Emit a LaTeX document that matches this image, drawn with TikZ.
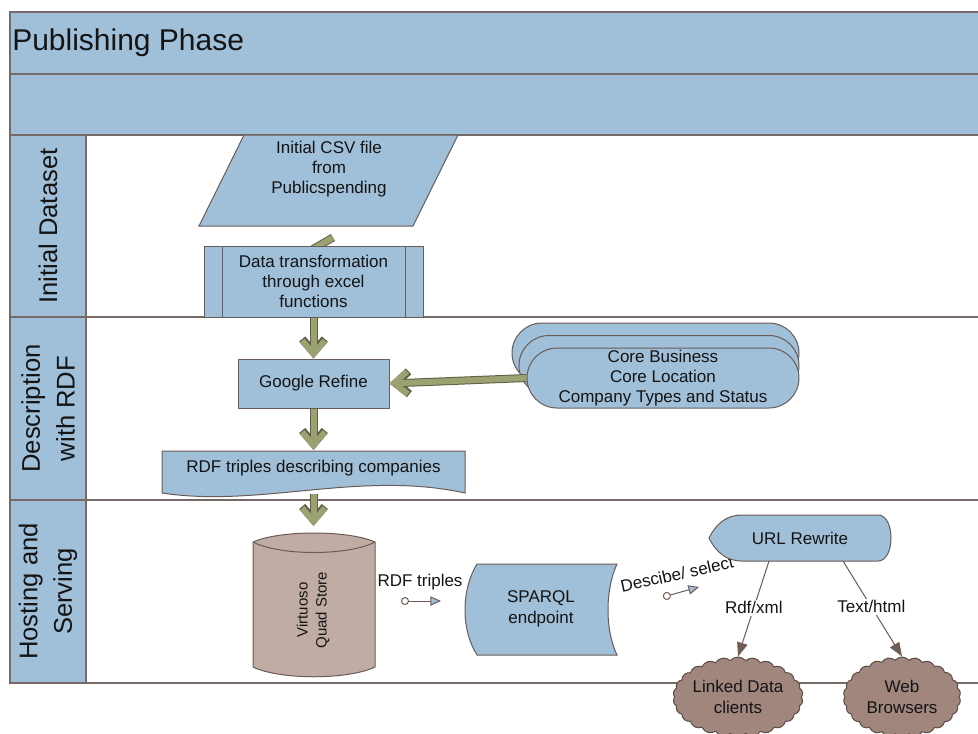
\documentclass[tikz,border=0pt]{standalone}
\usepackage{fontspec}
\setmainfont{Liberation Sans}
\usetikzlibrary{arrows.meta,shapes.symbols}

\definecolor{laneblue}{RGB}{160,191,216}
\definecolor{framegray}{RGB}{118,106,102}
\definecolor{edgegray}{RGB}{105,92,86}
\definecolor{flowolive}{RGB}{155,161,112}
\definecolor{oliveedge}{RGB}{95,95,70}
\definecolor{storefill}{RGB}{192,172,165}
\definecolor{cloudfill}{RGB}{160,134,124}
\definecolor{cloudedge}{RGB}{92,76,70}
\definecolor{linkbrown}{RGB}{110,92,85}
\definecolor{inktext}{RGB}{20,20,20}

\begin{document}
\begin{tikzpicture}[x=0.75pt,y=-0.75pt,
  body/.style={font=\fontsize{12.75}{15.3}\selectfont, text=inktext, align=center, inner sep=0pt},
  lanetitle/.style={font=\fontsize{19.2}{26}\selectfont, text=inktext, align=center, rotate=90, inner sep=0pt},
  shapeline/.style={draw=edgegray, line width=0.75pt, fill=laneblue},
  frameline/.style={draw=framegray, line width=1.1pt},
  flowtip/.style={-{Straight Barb[sharp,length=10pt,width=17pt]}},
  flow/.style={draw=flowolive, line width=4.5pt, flowtip,
    preaction={draw=oliveedge, line width=6pt, flowtip}},
  flowshaft/.style={draw=flowolive, line width=4.5pt, line cap=butt,
    preaction={draw=oliveedge, line width=6pt, line cap=butt}},
  msg/.style={draw=linkbrown, line width=0.75pt,
    {Circle[length=6pt,fill=white]}-{Triangle[length=8pt,width=7pt,fill=laneblue]}},
  link/.style={draw=linkbrown, line width=0.75pt, -{Triangle[length=10.5pt,width=8pt]}},
  cloudnode/.style={cloud, cloud puffs=26, cloud puff arc=100, cloud ignores aspect,
    draw=cloudedge, line width=0.75pt, fill=cloudfill, body,
    minimum width=88pt, minimum height=60pt}
]
\useasboundingbox (0,0) rectangle (978,733);

% ---- pool and lanes ----
\fill[laneblue] (10,12) rectangle (980,135);
\fill[laneblue] (10,135) rectangle (86,683);
\draw[frameline] (980,12) -- (10,12) -- (10,683) -- (980,683);
\draw[frameline] (10,74) -- (980,74);
\draw[frameline] (10,135) -- (980,135);
\draw[frameline] (10,317) -- (980,317);
\draw[frameline] (10,500) -- (980,500);
\draw[frameline] (86,135) -- (86,683);

\node[anchor=west, font=\fontsize{22.5}{27}\selectfont, text=inktext, inner sep=0pt] (title) at (12,43) {Publishing Phase};

\node[lanetitle] (lane1) at (48,226) {Initial Dataset};
\node[lanetitle] (lane2) at (48,408.5) {Description\\with RDF};
\node[lanetitle] (lane3) at (48,591.5) {Hosting and\\Serving};

% ---- initial dataset ----
\draw[shapeline] (244,135) -- (458,135) -- (413,226) -- (199,226) -- cycle;
\node[body] (csv) at (329,169) {Initial CSV file\\from\\Publicspending};

\coordinate (stubA) at (313,249);
\coordinate (stubB) at (333,237.5);
\draw[flowshaft] (stubA) -- (stubB);

\node[shapeline, body, minimum width=164.25pt, minimum height=53.25pt] (dt) at (313.5,281.5)
  {Data transformation\\through excel\\functions};
\draw[draw=edgegray, line width=0.75pt] (222,246) -- (222,317) (405,246) -- (405,317);

% ---- description with RDF ----
\node[shapeline, body, minimum width=113.25pt, minimum height=36.75pt] (gr) at (313.5,383.5) {Google Refine};

\draw[shapeline] (162,451) -- (465,451) -- (465,493)
  .. controls (360,470) and (260,508) .. (162,493) -- cycle;
\node[body] (rdf) at (313.5,468) {RDF triples describing companies};
\coordinate (rdfTop) at (313.5,450);
\coordinate (rdfBot) at (313.5,494);

\draw[shapeline, rounded corners=22.5pt] (512,323) rectangle (799,383);
\draw[shapeline, rounded corners=22.5pt] (519,335.5) rectangle (799,395.5);
\node[shapeline, body, rounded corners=22.5pt, minimum width=204pt, minimum height=45pt] (core) at (663,378)
  {Core Business\\Core Location\\Company Types and Status};

\draw[flow] (dt.south) -- (gr.north);
\draw[flow] (gr.south) -- (rdfTop);
\draw[flow] (core.west) -- (gr.east);

% ---- hosting and serving ----
\draw[draw=edgegray, line width=0.75pt, fill=storefill]
  (253,542) .. controls (280,530) and (348,530) .. (375,542) -- (375,667)
  .. controls (348,680) and (280,680) .. (253,667) -- cycle;
\draw[draw=edgegray, line width=0.75pt] (253,542) .. controls (280,556) and (348,556) .. (375,542);
\node[body, font=\fontsize{11.25}{14.25}\selectfont, rotate=90] (vqs) at (313,610) {Virtuoso\\Quad Store};
\coordinate (vqsTop) at (313.5,526);
\draw[flow] (rdfBot) -- (vqsTop);

\draw[shapeline] (477,564) -- (617,564) .. controls (605,590) and (605,630) .. (617,655)
  -- (477,655) .. controls (461,630) and (461,590) .. (477,564) -- cycle;
\node[body] (sparql) at (541,609) {SPARQL\\endpoint};

\node[body] (lblrdf) at (420,582) {RDF triples};
\coordinate (m1s) at (401,601);
\coordinate (m1e) at (441,601);
\draw[msg] (m1s) -- (m1e);

\node[body, rotate=12.5] (lbldesc) at (677,574) {Descibe/ select};
\coordinate (m2s) at (663,597);
\coordinate (m2e) at (699,587);
\draw[msg] (m2s) -- (m2e);

\draw[shapeline] (709,538) .. controls (716,524) and (726,515) .. (742,515) -- (878,515)
  .. controls (887,515) and (891,527) .. (891,538) .. controls (891,549) and (887,561) .. (878,561)
  -- (742,561) .. controls (726,561) and (716,552) .. (709,538) -- cycle;
\node[body] (url) at (800,538) {URL Rewrite};
\coordinate (urlA) at (769,561);
\coordinate (urlB) at (843,561);

\node[cloudnode] (ldc) at (738,697) {Linked Data\\clients};
\node[cloudnode] (web) at (902,697) {Web\\Browsers};

\draw[link, fill=linkbrown] (urlA) -- node[pos=0.49, body, fill=white, inner sep=1.5pt] (lblrdfxml) {Rdf/xml} (ldc.north);
\draw[link, fill=linkbrown] (urlB) -- node[pos=0.48, body, fill=white, inner sep=1.5pt] (lbltxt) {Text/html} (web.north);
\end{tikzpicture}
\end{document}
